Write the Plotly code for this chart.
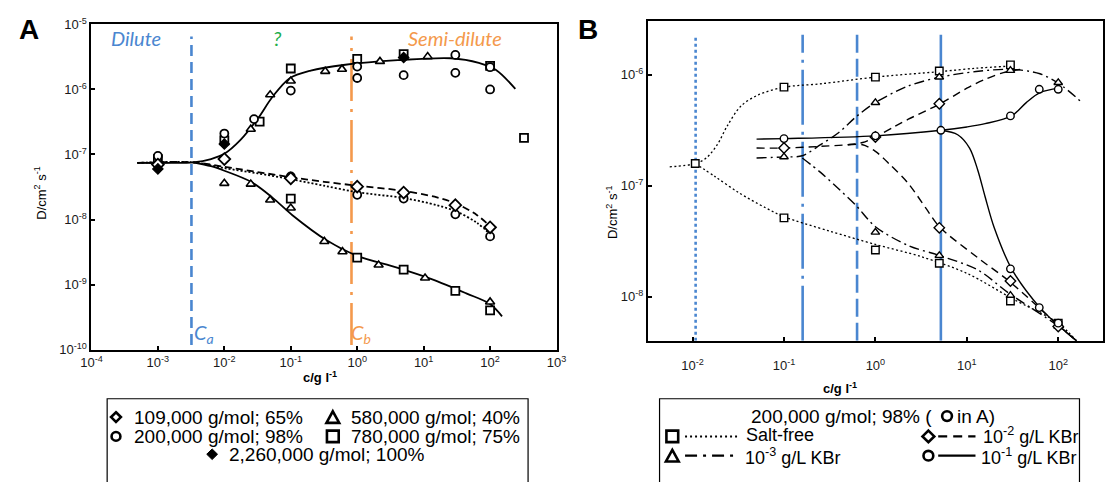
import numpy as np
import plotly.graph_objects as go

W, H = 1115, 482
def px(x): return x / W
def py(y): return 1 - y / H
def p10(a): return [10 ** v for v in a]

BLUE = "#4A86D0"
ORANGE = "#F4994C"
GREEN = "#22AE4C"

# ---------------- Panel A data (c in g/L, D in cm^2/s) ----------------
A_xticks = [1e-4, 1e-3, 1e-2, 1e-1, 1e0, 1e1, 1e2, 1e3]
A_xtext = ["10<sup>-4</sup>", "10<sup>-3</sup>", "10<sup>-2</sup>", "10<sup>-1</sup>",
           "10<sup>0</sup>", "10<sup>1</sup>", "10<sup>2</sup>", "10<sup>3</sup>"]
A_yticks = [1e-10, 1e-9, 1e-8, 1e-7, 1e-6, 1e-5]
A_ytext = ["10<sup>-10</sup>", "10<sup>-9</sup>", "10<sup>-8</sup>", "10<sup>-7</sup>",
           "10<sup>-6</sup>", "10<sup>-5</sup>"]

A_dia_c = [1e-3, 1e-2, 0.1, 1.0, 5.0, 30.0, 100.0]
A_dia_D = [7.0e-8, 8.5e-8, 4.3e-8, 3.2e-8, 2.6e-8, 1.66e-8, 7.6e-9]
A_cir_c = [1e-3, 1e-2, 0.028, 0.1, 1.0, 1.0, 5.0, 30.0, 30.0, 100.0, 100.0,
           0.1, 1.0, 5.0, 30.0, 100.0]
A_cir_D = [9.5e-8, 2.1e-7, 3.5e-7, 9.6e-7, 2.25e-6, 1.5e-6, 1.66e-6, 3.4e-6, 1.8e-6, 2.2e-6, 1.0e-6,
           4.6e-8, 2.4e-8, 2.1e-8, 1.2e-8, 5.5e-9]
A_tri_c = [1e-3, 1e-2, 0.025, 0.049, 0.1, 0.33, 0.59, 2.2, 11.5,
           0.025, 0.049, 0.1, 0.32, 0.6, 2.1, 10.5, 100.0]
A_tri_D = [7.5e-8, 3.6e-8, 2.45e-7, 8.3e-7, 1.35e-6, 1.9e-6, 2.05e-6, 2.7e-6, 3.2e-6,
           3.5e-8, 2.0e-8, 1.5e-8, 4.6e-9, 3.2e-9, 2.0e-9, 1.26e-9, 5.4e-10]
A_sq_c = [1e-3, 1e-2, 0.034, 0.1, 1.0, 5.0, 100.0, 324.0,
          0.1, 1.0, 5.0, 30.0, 100.0]
A_sq_D = [8.5e-8, 1.65e-7, 3.2e-7, 2.1e-6, 2.95e-6, 3.5e-6, 2.3e-6, 1.8e-7,
          2.1e-8, 2.6e-9, 1.7e-9, 8.0e-10, 4.0e-10]
A_fdia_c = [1e-3, 1e-2, 5.0]
A_fdia_D = [6.0e-8, 1.45e-7, 3.1e-6]

# fitted curves (log10 c, log10 D)
A_up_lc = [-3.31, -2.8, -2.47, -2.2, -2.0, -1.76, -1.49, -1.28, -1.02, -0.70, -0.18, 0.61, 1.41, 1.83, 2.09, 2.38]
A_up_lD = [-7.13, -7.13, -7.12, -7.07, -6.99, -6.78, -6.44, -6.12, -5.83, -5.71, -5.62, -5.55, -5.52, -5.59, -5.70, -5.99]
A_dash_lc = [-3.31, -2.47, -2.0, -1.5, -1.0, -0.5, 0.0, 0.7, 1.2, 1.5, 1.8, 2.05]
A_dash_lD = [-7.13, -7.12, -7.19, -7.27, -7.35, -7.42, -7.48, -7.56, -7.66, -7.76, -7.93, -8.15]
A_dot_lc = [-3.31, -2.47, -2.0, -1.5, -1.0, -0.5, 0.0, 0.7, 1.2, 1.5, 1.8, 2.05]
A_dot_lD = [-7.13, -7.12, -7.21, -7.29, -7.38, -7.48, -7.58, -7.67, -7.78, -7.88, -8.05, -8.27]
A_low_lc = [-2.47, -2.2, -2.0, -1.6, -1.28, -0.98, -0.46, 0.0, 0.6, 1.13, 1.65, 2.0, 2.18]
A_low_lD = [-7.12, -7.18, -7.25, -7.42, -7.66, -7.93, -8.32, -8.56, -8.74, -8.92, -9.14, -9.30, -9.49]

A_Ca = 3.2e-3
A_Cb = 0.82
A_vline_D = [1.17e-10, 6.5e-6]

# ---------------- Panel B data ----------------
B_xticks = [1e-2, 1e-1, 1e0, 1e1, 1e2]
B_xtext = ["10<sup>-2</sup>", "10<sup>-1</sup>", "10<sup>0</sup>", "10<sup>1</sup>", "10<sup>2</sup>"]
B_yticks = [1e-8, 1e-7, 1e-6]
B_ytext = ["10<sup>-8</sup>", "10<sup>-7</sup>", "10<sup>-6</sup>"]

B_sq_c = [0.0107, 0.1, 1.0, 5.0, 30.0, 0.1, 1.0, 5.0, 30.0, 100.0]
B_sq_lD = [-6.80, -6.11, -6.02, -5.965, -5.91, -7.29, -7.58, -7.70, -8.04, -8.24]
B_tri_c = [0.1, 1.0, 5.0, 30.0, 100.0, 1.0, 5.0, 30.0, 100.0]
B_tri_lD = [-6.74, -6.25, -6.02, -5.96, -6.07, -7.42, -7.63, -7.99, -8.27]
B_dia_c = [0.1, 1.0, 5.0, 5.0, 30.0, 100.0]
B_dia_lD = [-6.66, -6.56, -6.26, -7.38, -7.86, -8.27]
B_cir_c = [0.1, 1.0, 5.2, 30.0, 62.0, 100.0, 30.0, 62.0, 100.0]
B_cir_lD = [-6.575, -6.55, -6.50, -6.37, -6.13, -6.13, -7.75, -8.10, -8.24]

B_salt_up_lc = [-2.25, -1.97, -1.85, -1.73, -1.62, -1.47, -1.28, -0.99, -0.59, 0.0, 0.71, 1.1, 1.49]
B_salt_up_lD = [-6.83, -6.80, -6.75, -6.63, -6.46, -6.28, -6.18, -6.11, -6.08, -6.02, -5.97, -5.94, -5.92]
B_salt_lo_lc = [-1.97, -1.75, -1.5, -1.2, -1.0, -0.5, 0.0, 0.5, 1.0, 1.5, 2.0, 2.2]
B_salt_lo_lD = [-6.80, -6.92, -7.06, -7.20, -7.28, -7.41, -7.53, -7.64, -7.79, -8.02, -8.24, -8.40]
B_tri_up_lc = [-1.30, -0.99, -0.8, -0.6, -0.4, -0.2, 0.0, 0.36, 0.71, 1.1, 1.49, 1.8, 2.01, 2.26]
B_tri_up_lD = [-6.75, -6.74, -6.73, -6.63, -6.52, -6.37, -6.25, -6.10, -6.02, -5.97, -5.95, -5.99, -6.08, -6.25]
B_tri_lo_lc = [-0.8, -0.6, -0.4, -0.21, 0.0, 0.36, 0.7, 1.12, 1.46, 1.99, 2.2]
B_tri_lo_lD = [-6.75, -6.88, -7.03, -7.18, -7.37, -7.54, -7.63, -7.76, -7.97, -8.26, -8.40]
B_dia_up_lc = [-1.30, -0.99, -0.6, -0.3, -0.14, 0.0, 0.2, 0.36, 0.71, 1.0, 1.2, 1.4, 1.6]
B_dia_up_lD = [-6.66, -6.66, -6.645, -6.63, -6.61, -6.56, -6.47, -6.40, -6.26, -6.12, -6.04, -5.98, -5.95]
B_dia_lo_lc = [-0.3, -0.14, 0.0, 0.16, 0.36, 0.55, 0.70, 1.12, 1.46, 1.99, 2.2]
B_dia_lo_lD = [-6.63, -6.63, -6.69, -6.81, -6.98, -7.2, -7.37, -7.65, -7.86, -8.25, -8.40]
B_cir_up_lc = [-1.30, -0.99, 0.0, 0.72, 1.0, 1.2, 1.49, 1.65, 1.80, 2.01]
B_cir_up_lD = [-6.58, -6.575, -6.55, -6.50, -6.47, -6.44, -6.37, -6.25, -6.16, -6.12]
B_cir_lo_lc = [0.72, 0.9, 1.03, 1.12, 1.2, 1.3, 1.49, 1.80, 2.0, 2.2]
B_cir_lo_lD = [-6.50, -6.54, -6.66, -6.86, -7.10, -7.38, -7.75, -8.10, -8.26, -8.40]

B_vlines = [0.0108, 0.16, 0.63, 5.2]
B_vline_D = [4.0e-9, 2.3e-6]

# ---------------- figure ----------------
fig = go.Figure()

def curve(xl, yl, dash, width, xa="x", ya="y"):
    fig.add_trace(go.Scatter(x=p10(xl), y=p10(yl), mode="lines", xaxis=xa, yaxis=ya,
                             line=dict(color="black", width=width, dash=dash, shape="spline", smoothing=0.9),
                             hoverinfo="skip", showlegend=False))

def marks(x, y, sym, size, lw, xa="x", ya="y", fill="white"):
    fig.add_trace(go.Scatter(x=x, y=y, mode="markers", xaxis=xa, yaxis=ya,
                             marker=dict(symbol=sym, size=size, color=fill,
                                         line=dict(color="black", width=lw)),
                             showlegend=False))

def vline(c, yy, color, dash, xa, ya, width=2.6):
    fig.add_trace(go.Scatter(x=[c, c], y=yy, mode="lines", xaxis=xa, yaxis=ya,
                             line=dict(color=color, width=width, dash=dash),
                             hoverinfo="skip", showlegend=False))

# Panel A
vline(A_Ca, A_vline_D, BLUE, "11px,6px", "x", "y")
vline(A_Cb, A_vline_D, ORANGE, "42px,8px,3px,8px", "x", "y")
curve(A_up_lc, A_up_lD, "solid", 1.8)
curve(A_low_lc, A_low_lD, "solid", 1.8)
curve(A_dash_lc, A_dash_lD, "7px,4px", 1.8)
curve(A_dot_lc, A_dot_lD, "2px,2px", 1.8)
marks(A_sq_c, A_sq_D, "square", 8, 1.8)
marks(A_tri_c, A_tri_D, "triangle-up", 8, 1.6)
marks(A_cir_c, A_cir_D, "circle", 8, 1.8)
marks(A_dia_c, A_dia_D, "diamond", 9, 1.8)
marks(A_fdia_c, A_fdia_D, "diamond", 8, 1.2, fill="black")

# Panel B
for c, d in zip(B_vlines, ["3px,3px", "55px,7px,3px,7px", "18px,6px", "solid"]):
    vline(c, B_vline_D, BLUE, d, "x2", "y2", width=2.6)
curve(B_salt_up_lc, B_salt_up_lD, "2px,2.5px", 1.3, "x2", "y2")
curve(B_salt_lo_lc, B_salt_lo_lD, "2px,2.5px", 1.3, "x2", "y2")
curve(B_tri_up_lc, B_tri_up_lD, "10px,4px,2px,4px", 1.4, "x2", "y2")
curve(B_tri_lo_lc, B_tri_lo_lD, "10px,4px,2px,4px", 1.4, "x2", "y2")
curve(B_dia_up_lc, B_dia_up_lD, "8px,5px", 1.4, "x2", "y2")
curve(B_dia_lo_lc, B_dia_lo_lD, "8px,5px", 1.4, "x2", "y2")
curve(B_cir_up_lc, B_cir_up_lD, "solid", 1.4, "x2", "y2")
curve(B_cir_lo_lc, B_cir_lo_lD, "solid", 1.4, "x2", "y2")
marks(B_sq_c, p10(B_sq_lD), "square", 7.5, 1.4, "x2", "y2")
marks(B_tri_c, p10(B_tri_lD), "triangle-up", 7.5, 1.4, "x2", "y2")
marks(B_dia_c, p10(B_dia_lD), "diamond", 8, 1.4, "x2", "y2")
marks(B_cir_c, p10(B_cir_lD), "circle", 7.5, 1.4, "x2", "y2")

tickfont = dict(family="Liberation Sans", size=13, color="#1a1a1a")
axcommon = dict(type="log", showgrid=False, zeroline=False, showline=True, linecolor="black",
                mirror=True, ticks="inside", ticklen=4, tickwidth=1.5, tickcolor="black",
                tickfont=tickfont)

fig.update_layout(
    width=W, height=H, autosize=False, margin=dict(l=0, r=0, t=0, b=0),
    paper_bgcolor="white", plot_bgcolor="white", showlegend=False,
    xaxis=dict(domain=[px(82), px(556)], range=[-4, 3], tickvals=A_xticks, ticktext=A_xtext,
               anchor="y", linewidth=2, **axcommon),
    yaxis=dict(domain=[py(353), py(16)], range=[-10, -5], tickvals=A_yticks, ticktext=A_ytext,
               anchor="x", linewidth=2, **axcommon),
    xaxis2=dict(domain=[px(649), px(1113)], range=[-2.49, 2.49], tickvals=B_xticks, ticktext=B_xtext,
                anchor="y2", linewidth=1.6, ticklabelstandoff=12, **axcommon),
    yaxis2=dict(domain=[py(344), py(12)], range=[-8.40, -5.51], tickvals=B_yticks, ticktext=B_ytext,
                anchor="x2", linewidth=1.6, **axcommon),
)

ann = []
def text(x, y, t, size=19, color="black", family="Liberation Sans", xanchor="left", angle=0, bold=False, italic=False):
    s = t
    if bold:
        s = "<b>" + s + "</b>"
    if italic:
        s = "<i>" + s + "</i>"
    ann.append(dict(x=px(x), y=py(y), xref="paper", yref="paper", text=s, showarrow=False,
                    xanchor=xanchor, yanchor="middle", textangle=angle, borderpad=0,
                    font=dict(size=size, color=color, family=family)))

# panel letters
text(18, 21, "A", size=28, bold=True, xanchor="center")
text(588, 21, "B", size=28, bold=True, xanchor="center")

# region labels in A
text(127, 30, "Dilute", size=20, color=BLUE, family="Lato", xanchor="center", italic=True)
text(272, 30, "?", size=20, color=GREEN, family="Lato", xanchor="center", italic=True)
text(453, 30, "Semi-dilute", size=20, color=ORANGE, family="Lato", xanchor="center", italic=True)
text(186, 336, "C<sub>a</sub>", size=20, color=BLUE, family="Lato", italic=True)
text(345, 336, "C<sub>b</sub>", size=20, color=ORANGE, family="Lato", italic=True)

# axis titles
text(315, 381, "c/g l<sup>-1</sup>", size=13, bold=True, xanchor="center")
text(845, 393, "c/g l<sup>-1</sup>", size=13, bold=True, xanchor="center")
text(30, 190, "D/cm<sup>2</sup> s<sup>-1</sup>", size=13, xanchor="center", angle=-90)
text(612, 210, "D/cm<sup>2</sup> s<sup>-1</sup>", size=13, xanchor="center", angle=-90)

# legend A texts
text(124, 423, "109,000 g/mol; 65%")
text(124, 443, "200,000 g/mol; 98%")
text(346, 423, "580,000 g/mol; 40%")
text(346, 443, "780,000 g/mol; 75%")
text(221, 462, "2,260,000 g/mol; 100%")

# legend B texts
text(753, 422, "200,000 g/mol; 98% (")
text(963, 422, "in A)")
text(748, 442, "Salt-free", size=18)
text(990, 442, "10<sup>-2</sup> g/L KBr", size=18)
text(747, 464, "10<sup>-3</sup> g/L KBr", size=18)
text(988, 464, "10<sup>-1</sup> g/L KBr", size=18)

fig.update_layout(annotations=ann)

shapes = []
def rect(x0, y0, x1, y1, lw=1.2, fill=None):
    shapes.append(dict(type="rect", xref="paper", yref="paper", x0=px(x0), x1=px(x1), y0=py(y0), y1=py(y1),
                       line=dict(color="black", width=lw), fillcolor=fill if fill else "rgba(0,0,0,0)"))
def circ(cx, cy, r, lw=2.6):
    shapes.append(dict(type="circle", xref="paper", yref="paper", x0=px(cx - r), x1=px(cx + r),
                       y0=py(cy + r), y1=py(cy - r), line=dict(color="black", width=lw)))
def path(pts, lw=2.6, fill=None):
    d = "M " + " L ".join(f"{px(a):.5f},{py(b):.5f}" for a, b in pts) + " Z"
    shapes.append(dict(type="path", xref="paper", yref="paper", path=d,
                       line=dict(color="black", width=lw), fillcolor=fill if fill else "rgba(0,0,0,0)"))
def seg(x0, x1, y, dash, lw=2.2):
    shapes.append(dict(type="line", xref="paper", yref="paper", x0=px(x0), x1=px(x1), y0=py(y), y1=py(y),
                       line=dict(color="black", width=lw, dash=dash)))

# legend boxes
rect(98, 404, 527, 495, lw=1.2)
rect(661, 404, 1089, 495, lw=1.2)

# legend A symbols
path([(107, 418), (112, 423), (107, 428), (102, 423)])
circ(107, 443, 4.5)
path([(328, 417), (334.5, 429), (321.5, 429)])
rect(322, 437, 334, 449, lw=2.6)
path([(205, 456), (210.5, 461.5), (205, 467), (199.5, 461.5)], lw=1, fill="black")

# legend B symbols
circ(954, 422, 5)
rect(668, 437, 680, 449, lw=2.6)
seg(687, 743, 443, "2px,3px", lw=2)
path([(935, 437), (941, 443), (935, 449), (929, 443)])
seg(945, 983, 443, "9px,6px", lw=2.4)
path([(674, 457), (680.5, 469), (667.5, 469)])
seg(687, 737, 463, "12px,6px,3px,6px", lw=2.4)
circ(935, 463, 5)
seg(945, 983, 463, "solid", lw=2.4)

fig.update_layout(shapes=shapes)

fig.write_html("out.html")
